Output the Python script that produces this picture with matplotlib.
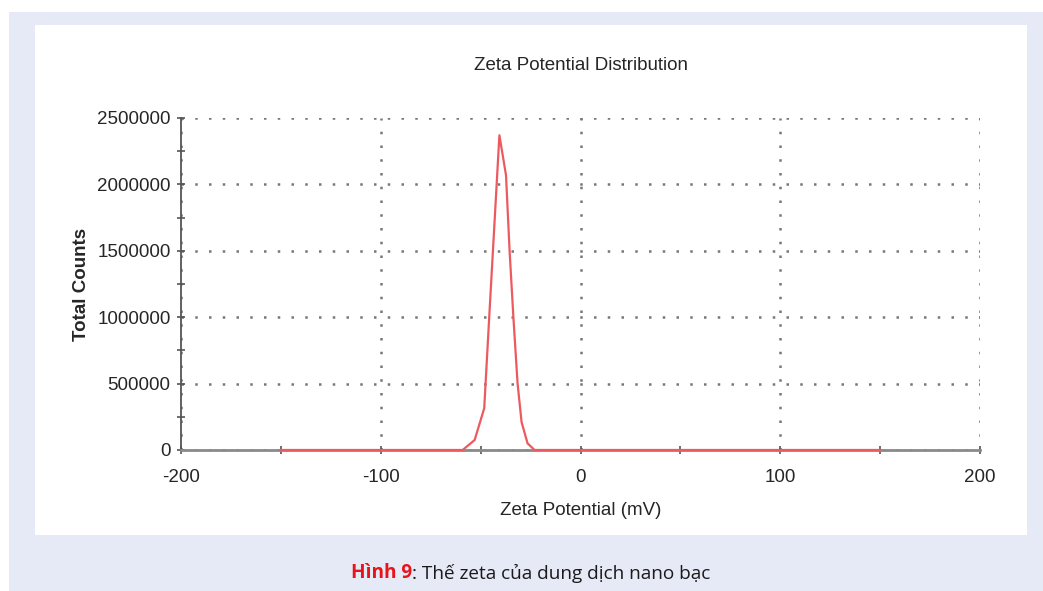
import matplotlib
matplotlib.use("Agg")
import matplotlib.pyplot as plt
from matplotlib.patches import Rectangle
from matplotlib.ticker import MultipleLocator

# Data
zeta_mv = [-150, -59, -53, -48.2, -45.7, -40.6, -37.3, -35.5, -33.6, -31.5, -29.5, -26.5, -23, 150]
counts = [0, 0, 75000, 314000, 1000000, 2370000, 2070000, 1500000, 1000000, 500000, 210000, 50000, 0, 0]
x_ticks = [-200, -100, 0, 100, 200]
y_ticks = [0, 500000, 1000000, 1500000, 2000000, 2500000]

title = "Zeta Potential Distribution"
xlabel = "Zeta Potential (mV)"
ylabel = "Total Counts"
caption_bold = "Hình 9"
caption_rest = ": Thế zeta của dung dịch nano bạc"

W, H = 1043, 591
fig = plt.figure(figsize=(W / 100, H / 100), dpi=100)
fig.patch.set_facecolor("white")

# background panels
fig.patches.append(Rectangle((9 / W, 0), 1 - 9 / W, (H - 12) / H, transform=fig.transFigure,
                             facecolor="#e6eaf6", edgecolor="none", zorder=-10))
fig.patches.append(Rectangle((35 / W, (H - 535) / H), (1027 - 35) / W, (535 - 25) / H,
                             transform=fig.transFigure, facecolor="white", edgecolor="none", zorder=-9))

ax = fig.add_axes([181 / W, (H - 450) / H, (980 - 181) / W, (450 - 118) / H])
ax.set_facecolor("none")
ax.plot(zeta_mv, counts, color="#ec5a60", lw=1.6, zorder=5, clip_on=False)

ax.set_xlim(-200, 200)
ax.set_ylim(0, 2500000)
ax.set_xticks(x_ticks)
ax.set_yticks(y_ticks)
ax.set_xticklabels([str(v) for v in x_ticks])
ax.set_yticklabels([str(v) for v in y_ticks])
ax.xaxis.set_minor_locator(MultipleLocator(50))
ax.yaxis.set_minor_locator(MultipleLocator(250000))

txtc = "#262626"
fnt = "Liberation Sans"
fs = 13.5
for lab in ax.get_xticklabels() + ax.get_yticklabels():
    lab.set_fontfamily(fnt)
    lab.set_fontsize(fs)
    lab.set_color(txtc)

ax.tick_params(axis="both", which="both", direction="inout", color="#555555", width=1.2)
ax.tick_params(axis="both", which="major", length=6, pad=4.5)
ax.tick_params(axis="both", which="minor", length=6)
ax.tick_params(axis="x", which="major", pad=11)

ax.grid(True, which="major", color="#777777", linestyle=(0, (1, 4.5)), linewidth=1.8)
for s in ["top", "right"]:
    ax.spines[s].set_visible(False)
ax.spines["left"].set_color("#555555")
ax.spines["left"].set_linewidth(1.3)
ax.spines["bottom"].set_color("#8a8a8a")
ax.spines["bottom"].set_linewidth(2.0)

ax.set_xlabel(xlabel, fontfamily=fnt, fontsize=fs, color=txtc, labelpad=11.5)
ax.set_ylabel(ylabel, fontfamily=fnt, fontsize=fs, color=txtc, fontweight="bold", labelpad=5)
ax.set_title(title, fontfamily=fnt, fontsize=fs, color=txtc, pad=34.5)

# caption with two colours
cap_y = 1 - 573.5 / H
fig.canvas.draw()
r = fig.canvas.get_renderer()
t1 = fig.text(0, cap_y, caption_bold, color="#e8141b", fontweight="bold",
              fontfamily="Open Sans", fontsize=13.7, va="center", ha="left")
t2 = fig.text(0, cap_y, caption_rest, color="#1a1a1a",
              fontfamily="Open Sans", fontsize=13.7, va="center", ha="left")
w1 = t1.get_window_extent(r).width
w2 = t2.get_window_extent(r).width
start = 531 - (w1 + w2) / 2
t1.set_x(start / W)
t2.set_x((start + w1) / W)

fig.savefig("out.png", dpi=100, facecolor="white")
